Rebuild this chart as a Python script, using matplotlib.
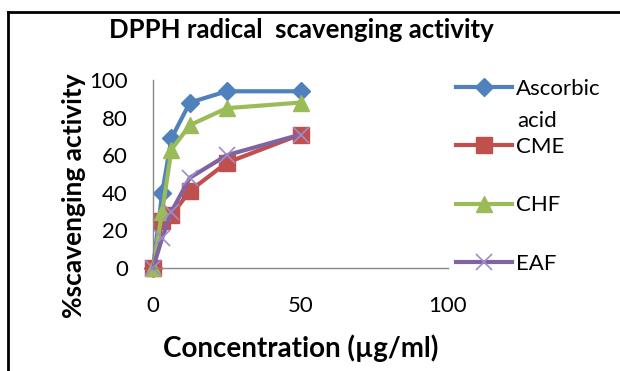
import matplotlib
matplotlib.use('Agg')
import matplotlib.pyplot as plt
from matplotlib.lines import Line2D

# data
conc = [0, 3.125, 6.25, 12.5, 25, 50]
ascorbic = [0, 40, 69, 88, 94, 94]
cme = [0, 25, 28, 41, 56, 71]
chf = [0, 30, 63, 76, 85, 88]
eaf = [0, 16, 30, 48, 60, 71]

labels = ['Ascorbic', 'CME', 'CHF', 'EAF']
xticks = [0, 50, 100]
yticks = [0, 20, 40, 60, 80, 100]

plt.rcParams['font.family'] = ['Lato', 'DejaVu Sans']

fig = plt.figure(figsize=(6.2, 3.71), dpi=100)
ax = fig.add_axes([153 / 620, 1 - 268 / 371, 295 / 620, 188 / 371])

ax.plot(conc, ascorbic, '-', color='#4F81BD', lw=3, marker='D', ms=9,
        label=labels[0], clip_on=False)
ax.plot(conc, cme, '-', color='#C0504D', lw=3, marker='s', ms=11,
        label=labels[1], clip_on=False)
ax.plot(conc, chf, '-', color='#9BBB59', lw=3, marker='^', ms=11,
        label=labels[2], clip_on=False)
ax.plot(conc, eaf, '-', color='#8064A2', lw=3, marker='x', ms=11,
        mec='#A08CC8', mew=1.2, label=labels[3], clip_on=False)

ax.set_xlim(0, 100)
ax.set_ylim(0, 100)
ax.set_xticks(xticks)
ax.set_yticks(yticks)
ax.tick_params(length=0, labelsize=16)
ax.tick_params(axis='y', pad=18)
ax.tick_params(axis='x', pad=20)
for s in ['top', 'right']:
    ax.spines[s].set_visible(False)
for s in ['left', 'bottom']:
    ax.spines[s].set_color('#888888')
    ax.spines[s].set_linewidth(1)

ax.set_xlabel('Concentration (µg/ml)', fontsize=20, fontweight='bold')
ax.xaxis.set_label_coords(0.5, (268 - 334) / 188)
ax.set_ylabel('%scavenging activity', fontsize=19, fontweight='bold')
ax.yaxis.set_label_coords((86 - 153) / 295, (268 - 196) / 188)

fig.text(301 / 620, 1 - 30 / 371, 'DPPH radical  scavenging activity',
         fontsize=18.5, fontweight='bold', ha='center', va='center')

leg = ax.legend(loc='upper left', bbox_to_anchor=(456 / 620, 1 - 79 / 371),
                bbox_transform=fig.transFigure, frameon=False,
                fontsize=16, handlelength=2.5, handletextpad=0.2,
                labelspacing=1.72, borderpad=0, borderaxespad=0)
fig.text(517 / 620, 1 - 121 / 371, 'acid', fontsize=16, ha='left', va='center')

# outer border (left and top only)
fig.add_artist(Line2D([8 / 620, 8 / 620], [0, 1 - 12 / 371], color='black', lw=2,
                      transform=fig.transFigure))
fig.add_artist(Line2D([8 / 620, 1], [1 - 12 / 371, 1 - 12 / 371], color='black', lw=2,
                      transform=fig.transFigure))

fig.savefig('out.png', dpi=100)
